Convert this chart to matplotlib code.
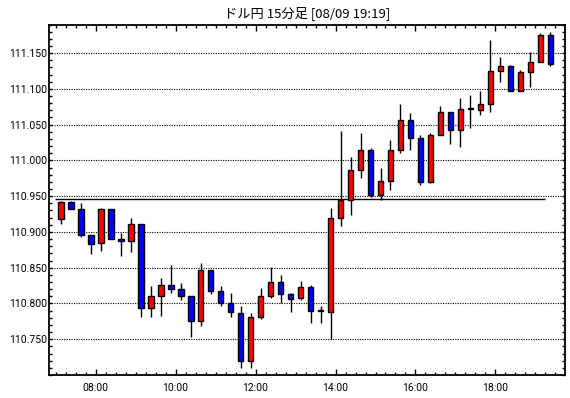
import matplotlib
matplotlib.use("Agg")
import matplotlib.pyplot as plt
from matplotlib.ticker import MultipleLocator, FixedLocator, FuncFormatter
import numpy as np

plt.rcParams['font.family'] = ['Noto Sans CJK JP', 'DejaVu Sans']

title = "ドル円 15分足 [08/09 19:19]"

# candle start times (hours), 15-minute bars from 07:00 to 19:15
start_hour = 7.0
bar_minutes = 15

opens = [110.918, 110.942, 110.932, 110.896, 110.885, 110.932, 110.890, 110.887, 110.911, 110.794,
         110.810, 110.826, 110.820, 110.810, 110.776, 110.847, 110.818, 110.800, 110.787, 110.719,
         110.781, 110.810, 110.830, 110.813, 110.807, 110.823, 110.789, 110.788, 110.919, 110.945,
         110.986, 111.014, 110.951, 110.971, 111.014, 111.056, 111.031, 110.970, 111.036, 111.067,
         111.043, 111.072, 111.071, 111.079, 111.125, 111.132, 111.097, 111.124, 111.138, 111.175]
highs = [110.943, 110.943, 110.940, 110.896, 110.933, 110.932, 110.898, 110.920, 110.911, 110.824,
         110.835, 110.854, 110.828, 110.810, 110.856, 110.847, 110.824, 110.815, 110.796, 110.786,
         110.821, 110.851, 110.840, 110.815, 110.831, 110.826, 110.796, 110.933, 111.041, 111.005,
         111.038, 111.017, 110.989, 111.028, 111.079, 111.066, 111.035, 111.039, 111.076, 111.068,
         111.087, 111.092, 111.097, 111.169, 111.145, 111.134, 111.127, 111.152, 111.178, 111.180]
lows = [110.911, 110.932, 110.893, 110.869, 110.874, 110.890, 110.866, 110.872, 110.781, 110.781,
        110.782, 110.814, 110.805, 110.753, 110.768, 110.813, 110.796, 110.781, 110.710, 110.710,
        110.778, 110.808, 110.801, 110.788, 110.805, 110.773, 110.773, 110.751, 110.909, 110.924,
        110.975, 110.949, 110.944, 110.958, 111.010, 111.014, 110.965, 110.968, 111.036, 111.023,
        111.019, 111.046, 111.063, 111.068, 111.109, 111.097, 111.097, 111.103, 111.138, 111.132]
closes = [110.942, 110.932, 110.896, 110.883, 110.932, 110.890, 110.887, 110.911, 110.794, 110.810,
          110.826, 110.820, 110.810, 110.776, 110.847, 110.817, 110.800, 110.788, 110.719, 110.781,
          110.810, 110.830, 110.813, 110.806, 110.823, 110.789, 110.789, 110.920, 110.945, 110.986,
          111.014, 110.951, 110.971, 111.014, 111.056, 111.031, 110.970, 111.036, 111.067, 111.043,
          111.072, 111.072, 111.079, 111.125, 111.132, 111.097, 111.124, 111.138, 111.175, 111.135]

ref_level = 110.9455

y_ticks = [110.750, 110.800, 110.850, 110.900, 110.950, 111.000, 111.050, 111.100, 111.150]
x_tick_hours = [8, 10, 12, 14, 16, 18]
x_tick_labels = ["08:00", "10:00", "12:00", "14:00", "16:00", "18:00"]

o = np.array(opens); h = np.array(highs); l = np.array(lows); c = np.array(closes)
n = len(o)
step = bar_minutes / 60.0
centers = start_hour + step / 2 + step * np.arange(n)

fig = plt.figure(figsize=(5.7, 3.98), dpi=100)
ax = fig.add_axes([49/570, 23/398, 516/570, 350.5/398])

ax.set_xlim(6.833, 19.74)
ax.set_ylim(110.700, 111.190)

# gridlines
for yv in y_ticks:
    ax.axhline(yv, color='black', lw=0.8, ls=(0, (1, 1.2)), zorder=1)

# reference level line
ax.hlines(ref_level, centers[0] - 0.14, centers[-1] - 0.14, color='black', lw=1.0, zorder=1.5)

# wicks
ax.vlines(centers, l, h, color='black', lw=1.0, zorder=2)

# bodies
colors = np.where(c > o, '#ff0000', np.where(c < o, '#0000ff', '#000000'))
bottoms = np.minimum(o, c)
heights = np.maximum(np.abs(c - o), 0.0012)
ax.bar(centers, heights, bottom=bottoms, width=0.145, color=colors,
       edgecolor='black', linewidth=1.0, zorder=3)

# ticks
ax.set_yticks(y_ticks)
ax.yaxis.set_major_formatter(FuncFormatter(lambda v, p: f"{v:.3f}"))
ax.yaxis.set_minor_locator(MultipleLocator(0.01))
ax.set_xticks(x_tick_hours)
ax.set_xticklabels(x_tick_labels)
ax.xaxis.set_minor_locator(FixedLocator(np.arange(7.0, 19.75, 0.25)))

ax.tick_params(axis='both', which='both', direction='in', top=True, right=True, color='black')
ax.tick_params(axis='y', which='major', length=2.5, width=1, pad=1.5, labelsize=7.5)
ax.tick_params(axis='y', which='minor', length=2.5, width=1)
ax.tick_params(axis='x', which='major', length=4, width=1, pad=6, labelsize=7.5)
ax.tick_params(axis='x', which='minor', length=2, width=1)
for lab in ax.get_xticklabels() + ax.get_yticklabels():
    lab.set_fontfamily('Roboto')

for sp in ax.spines.values():
    sp.set_linewidth(1.3)
    sp.set_color('black')

fig.text((49 + 565) / 2 / 570, 1 - 13 / 398, title, ha='center', va='center', fontsize=9.5)

fig.savefig("out.png", dpi=100, facecolor='white')
